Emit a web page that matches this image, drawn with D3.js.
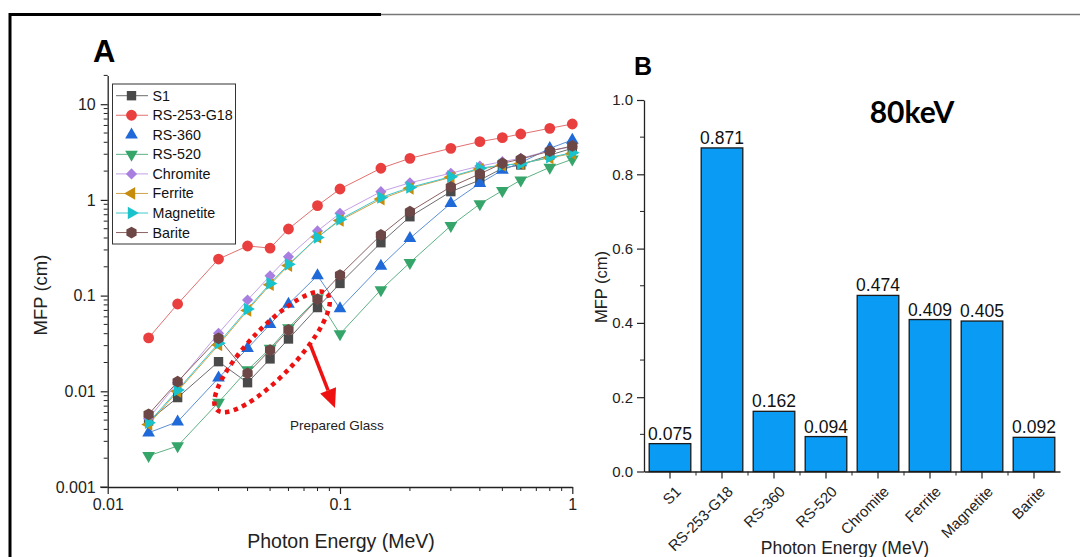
<!DOCTYPE html>
<html>
<head>
<meta charset="utf-8">
<script src="https://cdn.jsdelivr.net/npm/d3@7"></script>
<style>
  html, body { margin: 0; padding: 0; background: #fff; }
  svg { display: block; font-family: "Liberation Sans", Arial, sans-serif; }
</style>
</head>
<body>
<svg id="chart" width="1080" height="557"></svg>
<script>
// ---- Panel A: mean free path vs photon energy ----
const energies = [0.015, 0.02, 0.03, 0.04, 0.05, 0.06, 0.08, 0.1, 0.15, 0.2, 0.3, 0.4, 0.5, 0.6, 0.8, 1];
const seriesNames = ["S1", "RS-253-G18", "RS-360", "RS-520", "Chromite", "Ferrite", "Magnetite", "Barite"];
const mfpS1        = [0.0049, 0.0086, 0.0204, 0.0123, 0.0218, 0.0352, 0.075, 0.134, 0.357, 0.667, 1.22, 1.61, 2.14, 2.32, 2.94, 3.46];
const mfpRS253G18  = [0.0361, 0.0817, 0.241, 0.330, 0.314, 0.497, 0.871, 1.30, 2.14, 2.72, 3.46, 4.06, 4.47, 4.88, 5.60, 6.21];
const mfpRS360     = [0.00369, 0.00481, 0.0138, 0.0281, 0.0501, 0.0817, 0.162, 0.0730, 0.204, 0.397, 0.921, 1.49, 2.05, 2.45, 3.46, 4.23];
const mfpRS520     = [0.00212, 0.00268, 0.00767, 0.0167, 0.0280, 0.0460, 0.094, 0.0397, 0.115, 0.221, 0.537, 0.906, 1.25, 1.61, 2.19, 2.66];
const mfpChromite  = [0.0052, 0.0123, 0.0404, 0.090, 0.161, 0.255, 0.474, 0.724, 1.22, 1.51, 1.90, 2.26, 2.51, 2.72, 3.27, 3.59];
const mfpFerrite   = [0.0045, 0.0100, 0.0305, 0.0700, 0.130, 0.206, 0.409, 0.610, 1.02, 1.32, 1.72, 2.10, 2.30, 2.40, 2.75, 3.05];
const mfpMagnetite = [0.0047, 0.0103, 0.0318, 0.0724, 0.134, 0.212, 0.405, 0.627, 1.06, 1.35, 1.75, 2.14, 2.32, 2.38, 2.79, 3.11];
const mfpBarite    = [0.00575, 0.0126, 0.0358, 0.0154, 0.0270, 0.0437, 0.092, 0.164, 0.430, 0.753, 1.37, 1.87, 2.41, 2.67, 3.24, 3.66];
const xTickLabelsA = ["0.01", "0.1", "1"];
const yTickLabelsA = ["0.001", "0.01", "0.1", "1", "10"];

// ---- Panel B: mean free path at 80 keV ----
const barCategories = ["S1", "RS-253-G18", "RS-360", "RS-520", "Chromite", "Ferrite", "Magnetite", "Barite"];
const barValues = [0.075, 0.871, 0.162, 0.094, 0.474, 0.409, 0.405, 0.092];
const yTickLabelsB = ["0.0", "0.2", "0.4", "0.6", "0.8", "1.0"];

const svg = d3.select("#chart");

// outer frame lines
svg.append("line").attr("x1", 10).attr("x2", 381).attr("y1", 14.5).attr("y2", 14.5)
  .attr("stroke", "#000").attr("stroke-width", 3);
svg.append("line").attr("x1", 381).attr("x2", 1080).attr("y1", 14.5).attr("y2", 14.5)
  .attr("stroke", "#777").attr("stroke-width", 1.5);
svg.append("line").attr("x1", 10).attr("x2", 10).attr("y1", 13).attr("y2", 557)
  .attr("stroke", "#000").attr("stroke-width", 3);

// ===================== Panel A =====================
const xA = d3.scaleLog().domain([0.01, 1]).range([107.7, 572.3]);
const yA = d3.scaleLog().domain([0.001, 20]).range([487, 75.4]);

const gA = svg.append("g");

// x axis
const xMajA = [0.01, 0.1, 1];
const xAxisA = d3.axisBottom(xA).tickValues(xMajA)
  .tickFormat((d, i) => xTickLabelsA[i]).tickSizeOuter(0).tickSizeInner(7).tickPadding(5);
const gxA = gA.append("g").attr("transform", "translate(0,487)").call(xAxisA);
const xMinA = xA.ticks().filter(t => !xMajA.some(m => Math.abs(m - t) < 1e-12));
gxA.selectAll(".minor").data(xMinA).join("line").attr("class", "minor")
  .attr("x1", d => xA(d)).attr("x2", d => xA(d)).attr("y1", 0).attr("y2", 4).attr("stroke", "#222");
gxA.append("line").attr("x1", 100).attr("x2", 107.7).attr("y1", 0).attr("y2", 0).attr("stroke", "#222");

// y axis
const yMajA = [0.001, 0.01, 0.1, 1, 10];
const yAxisA = d3.axisLeft(yA).tickValues(yMajA)
  .tickFormat((d, i) => yTickLabelsA[i]).tickSizeOuter(0).tickSizeInner(7).tickPadding(5);
const gyA = gA.append("g").attr("transform", "translate(107.7,0)").call(yAxisA);
const yMinA = yA.ticks().filter(t => !yMajA.some(m => Math.abs(m - t) / m < 1e-9));
gyA.selectAll(".minor").data(yMinA).join("line").attr("class", "minor")
  .attr("x1", 0).attr("x2", -4).attr("y1", d => yA(d)).attr("y2", d => yA(d)).attr("stroke", "#222");

[gxA, gyA].forEach(g => {
  g.selectAll(".domain").attr("stroke", "#222").attr("stroke-width", 1.3);
  g.selectAll(".tick line").attr("stroke", "#222").attr("stroke-width", 1.2);
  g.selectAll(".tick text").attr("font-size", 16).attr("fill", "#222")
    .attr("font-family", "'Liberation Sans', Arial, sans-serif");
});

// axis titles
gA.append("text").attr("x", 341).attr("y", 548).attr("text-anchor", "middle")
  .attr("font-size", 19.5).attr("fill", "#222").text("Photon Energy (MeV)");
gA.append("text").attr("transform", "translate(47,295) rotate(-90)").attr("text-anchor", "middle")
  .attr("font-size", 18.5).attr("fill", "#222").text("MFP (cm)");
gA.append("text").attr("x", 93).attr("y", 62).attr("font-size", 31).attr("font-weight", "bold")
  .attr("fill", "#000").text("A");

// marker shapes
const hexagon = {
  draw(ctx, size) {
    const r = Math.sqrt(size / (1.5 * Math.sqrt(3)));
    for (let k = 0; k < 6; k++) {
      const a = Math.PI / 6 + k * Math.PI / 3;
      const px = r * Math.cos(a), py = r * Math.sin(a);
      if (k === 0) ctx.moveTo(px, py); else ctx.lineTo(px, py);
    }
    ctx.closePath();
  }
};
const styles = [
  { vals: mfpS1,        line: "#6d6d6d", fill: "#4a4a4a", type: d3.symbolSquare,   size: 88, rot: 0 },
  { vals: mfpRS253G18,  line: "#e27070", fill: "#ea3f3f", type: d3.symbolCircle,   size: 92, rot: 0 },
  { vals: mfpRS360,     line: "#5b8fd6", fill: "#1f6ad8", type: d3.symbolTriangle, size: 70, rot: 0 },
  { vals: mfpRS520,     line: "#5fb285", fill: "#35a56a", type: d3.symbolTriangle, size: 70, rot: 180 },
  { vals: mfpChromite,  line: "#c3a0e6", fill: "#a87ee0", type: d3.symbolSquare,   size: 62, rot: 45 },
  { vals: mfpFerrite,   line: "#cfa24a", fill: "#c88c0c", type: d3.symbolTriangle, size: 70, rot: -90 },
  { vals: mfpMagnetite, line: "#3fc8cc", fill: "#19c3cb", type: d3.symbolTriangle, size: 70, rot: 90 },
  { vals: mfpBarite,    line: "#8a6262", fill: "#6d4646", type: hexagon,           size: 90, rot: 0 }
];

const lineGen = d3.line().x(d => xA(d.e)).y(d => yA(d.v));
const plotA = gA.append("g");
styles.forEach(s => {
  const pts = energies.map((e, i) => ({ e, v: s.vals[i] }));
  plotA.append("path").datum(pts).attr("d", lineGen).attr("fill", "none")
    .attr("stroke", s.line).attr("stroke-width", 1);
});
styles.forEach(s => {
  const pts = energies.map((e, i) => ({ e, v: s.vals[i] }));
  const sym = d3.symbol().type(s.type).size(s.size);
  plotA.append("g").selectAll("path").data(pts).join("path")
    .attr("d", sym)
    .attr("transform", d => `translate(${xA(d.e)},${yA(d.v)}) rotate(${s.rot})`)
    .attr("fill", s.fill);
});

// legend
const legend = gA.append("g");
legend.append("rect").attr("x", 112.5).attr("y", 84).attr("width", 123).attr("height", 160)
  .attr("fill", "#fff").attr("stroke", "#333").attr("stroke-width", 1);
styles.forEach((s, i) => {
  const ly = 95.7 + i * 19.55;
  if (i !== 2) {
    legend.append("line").attr("x1", 116).attr("x2", 148).attr("y1", ly).attr("y2", ly)
      .attr("stroke", s.line).attr("stroke-width", 1);
  }
  legend.append("path").attr("d", d3.symbol().type(s.type).size(s.size))
    .attr("transform", `translate(131.5,${ly}) rotate(${s.rot})`).attr("fill", s.fill);
  legend.append("text").attr("x", 152.5).attr("y", ly + 5).attr("font-size", 14.3)
    .attr("fill", "#111").text(seriesNames[i]);
});

// "Prepared Glass" annotation: dotted ellipse and arrow
const annot = gA.append("g");
const cx = xA(0.051), cy = yA(0.0258);
annot.append("ellipse").attr("cx", 0).attr("cy", 0).attr("rx", 80).attr("ry", 24)
  .attr("transform", `translate(${cx},${cy}) rotate(-46.5)`)
  .attr("fill", "none").attr("stroke", "#ee1111").attr("stroke-width", 4.5)
  .attr("stroke-dasharray", "4.5 4.5");
const ax0 = 310, ay0 = 344, ax1 = 335, ay1 = 408;
const ang = Math.atan2(ay1 - ay0, ax1 - ax0);
const headLen = 19, headW = 8.5;
const bx = ax1 - headLen * Math.cos(ang), by = ay1 - headLen * Math.sin(ang);
annot.append("line").attr("x1", ax0).attr("y1", ay0).attr("x2", bx).attr("y2", by)
  .attr("stroke", "#ee1111").attr("stroke-width", 3.5);
annot.append("path")
  .attr("d", `M${ax1},${ay1} L${bx + headW * Math.sin(ang)},${by - headW * Math.cos(ang)} L${bx - headW * Math.sin(ang)},${by + headW * Math.cos(ang)} Z`)
  .attr("fill", "#ee1111");
annot.append("text").attr("x", 290).attr("y", 430).attr("font-size", 13.5).attr("fill", "#222")
  .text("Prepared Glass");

// ===================== Panel B =====================
const xB = d3.scaleBand().domain(barCategories).range([644, 1060]).paddingInner(0.2).paddingOuter(0.1);
const yB = d3.scaleLinear().domain([0, 1]).range([471.5, 100]);
const gB = svg.append("g");

const yMajB = [0, 0.2, 0.4, 0.6, 0.8, 1.0];
const gyB = gB.append("g").attr("transform", "translate(644,0)")
  .call(d3.axisLeft(yB).tickValues(yMajB).tickFormat((d, i) => yTickLabelsB[i])
    .tickSizeOuter(0).tickSizeInner(7).tickPadding(4));
gyB.selectAll(".minor").data([0.1, 0.3, 0.5, 0.7, 0.9]).join("line").attr("class", "minor")
  .attr("x1", 0).attr("x2", -4).attr("y1", d => yB(d)).attr("y2", d => yB(d)).attr("stroke", "#222");

const gxB = gB.append("g").attr("transform", "translate(0,471.5)")
  .call(d3.axisBottom(xB).tickSizeOuter(0).tickSizeInner(7).tickFormat(""));
const step = xB.step();
gxB.selectAll(".minor").data(barCategories.slice(1)).join("line").attr("class", "minor")
  .attr("x1", d => xB(d) + xB.bandwidth() / 2 - step / 2).attr("x2", d => xB(d) + xB.bandwidth() / 2 - step / 2)
  .attr("y1", 0).attr("y2", 4).attr("stroke", "#222");
gxB.selectAll(".catlabel").data(barCategories).join("text").attr("class", "catlabel")
  .attr("transform", d => `translate(${xB(d) + xB.bandwidth() / 2 + 12},${21}) rotate(-45)`)
  .attr("text-anchor", "end").attr("font-size", 15).attr("fill", "#222").text(d => d);

[gxB, gyB].forEach(g => {
  g.selectAll(".domain").attr("stroke", "#222").attr("stroke-width", 1.3);
  g.selectAll(".tick line").attr("stroke", "#222").attr("stroke-width", 1.2);
  g.selectAll(".tick text").attr("font-size", 15).attr("fill", "#222")
    .attr("font-family", "'Liberation Sans', Arial, sans-serif");
});

gB.selectAll(".bar").data(barValues).join("rect").attr("class", "bar")
  .attr("x", (d, i) => xB(barCategories[i]))
  .attr("width", xB.bandwidth())
  .attr("y", d => yB(d))
  .attr("height", d => yB(0) - yB(d))
  .attr("fill", "#0a9bf5").attr("stroke", "#1a1a1a").attr("stroke-width", 1.3);
gB.selectAll(".val").data(barValues).join("text").attr("class", "val")
  .attr("x", (d, i) => xB(barCategories[i]) + xB.bandwidth() / 2)
  .attr("y", d => yB(d) - 4)
  .attr("text-anchor", "middle").attr("font-size", 17.5).attr("fill", "#111")
  .text(d => d3.format(".3f")(d));

gB.append("text").attr("x", 845).attr("y", 554).attr("text-anchor", "middle")
  .attr("font-size", 17.5).attr("fill", "#222").text("Photon Energy (MeV)");
gB.append("text").attr("transform", "translate(607,287) rotate(-90)").attr("text-anchor", "middle")
  .attr("font-size", 16.5).attr("fill", "#222").text("MFP (cm)");
gB.append("text").attr("x", 634).attr("y", 75).attr("font-size", 25).attr("font-weight", "bold")
  .attr("fill", "#000").text("B");
gB.append("text").attr("x", 912).attr("y", 123).attr("text-anchor", "middle")
  .attr("font-family", "Lato, 'Open Sans', sans-serif")
  .attr("font-size", 30).attr("font-weight", "bold").attr("fill", "#000").text("80keV");
</script>
</body>
</html>
